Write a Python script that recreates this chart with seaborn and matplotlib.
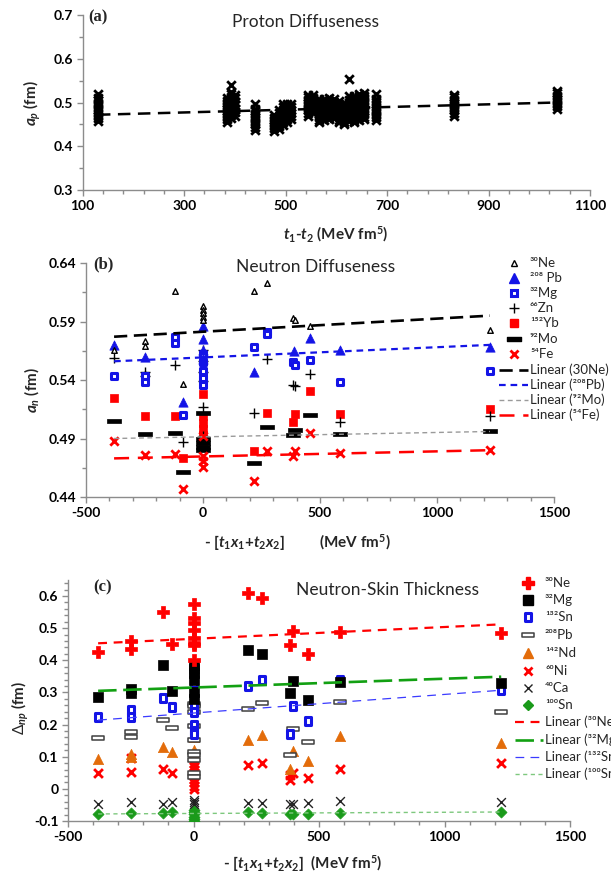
import numpy as np
import pandas as pd
import matplotlib
matplotlib.use("Agg")
import matplotlib.pyplot as plt
import seaborn as sns
from matplotlib.lines import Line2D
from matplotlib.path import Path
from matplotlib.ticker import FixedLocator

sns.set_theme(style="white")
plt.rcParams['font.family'] = ['Lato', 'DejaVu Sans']
plt.rcParams['mathtext.fontset'] = 'custom'
plt.rcParams['mathtext.rm'] = 'Lato'
plt.rcParams['mathtext.it'] = 'Lato:italic:bold'
plt.rcParams['mathtext.bf'] = 'Lato:bold'

# ---------------- Panel (a): proton diffuseness ----------------
ap_col_x = [130, 384, 392, 400, 440, 478, 486, 494, 502, 510, 545, 553, 565, 575,
            585, 595, 605, 615, 625, 635, 645, 655, 678, 832, 1035]
ap_col_y = [
    [0.458, 0.464, 0.470, 0.476, 0.482, 0.488, 0.494, 0.500, 0.506, 0.511, 0.520],
    [0.456, 0.462, 0.468, 0.474, 0.480, 0.486, 0.492, 0.498, 0.504, 0.510],
    [0.465, 0.471, 0.477, 0.483, 0.489, 0.495, 0.501, 0.507, 0.513, 0.519, 0.525, 0.540],
    [0.470, 0.478, 0.486, 0.494, 0.502, 0.510, 0.518],
    [0.438, 0.444, 0.450, 0.456, 0.462, 0.468, 0.474, 0.480, 0.486, 0.497],
    [0.435, 0.441, 0.447, 0.453, 0.459, 0.465, 0.471],
    [0.440, 0.446, 0.452, 0.458, 0.464, 0.470, 0.476, 0.482],
    [0.448, 0.455, 0.462, 0.469, 0.476, 0.483, 0.490, 0.497],
    [0.455, 0.462, 0.469, 0.476, 0.483, 0.490, 0.497],
    [0.462, 0.469, 0.476, 0.483, 0.490, 0.497],
    [0.470, 0.476, 0.482, 0.488, 0.494, 0.500, 0.506, 0.512, 0.518],
    [0.475, 0.481, 0.487, 0.493, 0.499, 0.505, 0.511, 0.517],
    [0.455, 0.461, 0.467, 0.473, 0.479, 0.485, 0.491, 0.497, 0.503, 0.509],
    [0.460, 0.466, 0.472, 0.478, 0.484, 0.490, 0.496, 0.502, 0.508],
    [0.462, 0.468, 0.474, 0.480, 0.486, 0.492, 0.498, 0.504, 0.510],
    [0.465, 0.471, 0.477, 0.483, 0.489, 0.495, 0.501, 0.507],
    [0.455, 0.461, 0.467, 0.473, 0.479, 0.485, 0.491, 0.497, 0.503],
    [0.450, 0.456, 0.462, 0.468, 0.474, 0.480, 0.486, 0.492, 0.498],
    [0.458, 0.464, 0.470, 0.476, 0.482, 0.488, 0.494, 0.500, 0.506, 0.515, 0.553],
    [0.455, 0.461, 0.467, 0.473, 0.479, 0.485, 0.491, 0.497, 0.503, 0.509, 0.515],
    [0.460, 0.466, 0.472, 0.478, 0.484, 0.490, 0.496, 0.502, 0.508, 0.514, 0.520],
    [0.462, 0.468, 0.474, 0.480, 0.486, 0.492, 0.498, 0.504, 0.510, 0.516, 0.522],
    [0.460, 0.466, 0.472, 0.478, 0.484, 0.490, 0.496, 0.502, 0.508, 0.520],
    [0.470, 0.476, 0.482, 0.488, 0.494, 0.500, 0.506, 0.512, 0.517],
    [0.485, 0.491, 0.497, 0.503, 0.509, 0.515, 0.521, 0.526],
]
ap_trend_x = [130, 1035]
ap_trend_y = [0.472, 0.500]
a_xticks = [100, 300, 500, 700, 900, 1100]
a_yticks = [0.3, 0.4, 0.5, 0.6, 0.7]

# ---------------- Panel (b): neutron diffuseness ----------------
b_ne_x = [-380, -248, -248, -120, -85, 0, 0, 0, 0, 0, 218, 274, 385, 395, 457, 1226]
b_ne_y = [0.566, 0.573, 0.569, 0.616, 0.537, 0.603, 0.600, 0.597, 0.594, 0.591,
          0.616, 0.623, 0.593, 0.591, 0.586, 0.583]
b_pb_x = [-380, -248, -85, 0, 0, 0, 0, 218, 390, 457, 585, 1226]
b_pb_y = [0.570, 0.560, 0.521, 0.586, 0.575, 0.566, 0.558, 0.547, 0.565, 0.576, 0.566, 0.568]
b_mg_x = [-380, -248, -248, -120, -120, -85, 0, 0, 0, 0, 0, 218, 274, 274, 385, 395, 457, 585, 1226]
b_mg_y = [0.543, 0.543, 0.538, 0.577, 0.572, 0.510, 0.562, 0.555, 0.548, 0.542, 0.536,
          0.568, 0.581, 0.579, 0.555, 0.553, 0.557, 0.538, 0.548]
b_zn_x = [-380, -248, -248, -120, -85, 0, 0, 0, 0, 0, 0, 218, 274, 385, 395, 457, 585, 1226]
b_zn_y = [0.559, 0.547, 0.543, 0.553, 0.487, 0.566, 0.556, 0.547, 0.539, 0.517, 0.492,
          0.512, 0.558, 0.536, 0.535, 0.545, 0.504, 0.509]
b_yb_x = [-380, -248, -120, -85, 0, 0, 0, 0, 0, 0, 0, 218, 274, 385, 395, 457, 585, 1226]
b_yb_y = [0.525, 0.509, 0.509, 0.473, 0.528, 0.509, 0.503, 0.498, 0.493, 0.488, 0.484,
          0.479, 0.512, 0.504, 0.511, 0.531, 0.511, 0.515]
b_mo_x = [-380, -248, -120, -85, 0, 0, 0, 0, 0, 218, 274, 385, 395, 457, 585, 1226]
b_mo_y = [0.505, 0.494, 0.495, 0.461, 0.512, 0.490, 0.486, 0.483, 0.480, 0.469, 0.500,
          0.493, 0.497, 0.510, 0.494, 0.496]
b_fe_x = [-380, -248, -120, -85, 0, 0, 0, 0, 218, 274, 385, 395, 457, 585, 1226]
b_fe_y = [0.488, 0.476, 0.477, 0.447, 0.492, 0.475, 0.471, 0.466, 0.454, 0.479, 0.475,
          0.479, 0.495, 0.478, 0.480]
b_trend_x = [-380, 1226]
b_ne_trend = [0.577, 0.595]
b_pb_trend = [0.556, 0.570]
b_mo_trend = [0.490, 0.496]
b_fe_trend = [0.473, 0.480]
b_xticks = [-500, 0, 500, 1000, 1500]
b_yticks = [0.44, 0.49, 0.54, 0.59, 0.64]

# ---------------- Panel (c): neutron-skin thickness ----------------
c_ne_x = [-380, -248, -248, -120, -85, 0, 0, 0, 0, 0, 0, 0, 0, 218, 274, 385, 395, 457, 585, 1226]
c_ne_y = [0.425, 0.461, 0.435, 0.549, 0.450, 0.575, 0.532, 0.515, 0.494, 0.468, 0.455,
          0.447, 0.400, 0.610, 0.593, 0.447, 0.491, 0.421, 0.489, 0.486]
c_mg_x = [-380, -248, -248, -120, -85, 0, 0, 0, 0, 0, 0, 218, 274, 385, 395, 457, 585, 1226]
c_mg_y = [0.286, 0.312, 0.297, 0.385, 0.305, 0.385, 0.372, 0.360, 0.340, 0.300, 0.280,
          0.432, 0.420, 0.297, 0.335, 0.276, 0.333, 0.330]
c_sn132_x = [-380, -248, -248, -120, -85, 0, 0, 0, 0, 0, 0, 0, 0, 218, 274, 385, 395, 457, 585, 1226]
c_sn132_y = [0.224, 0.245, 0.224, 0.283, 0.255, 0.340, 0.330, 0.305, 0.262, 0.240, 0.200,
             0.180, 0.170, 0.321, 0.340, 0.170, 0.258, 0.211, 0.338, 0.307]
c_pb_x = [-380, -248, -248, -120, -85, 0, 0, 0, 0, 0, 0, 0, 0, 0, 0, 218, 274, 385, 395, 457, 585, 1226]
c_pb_y = [0.159, 0.177, 0.162, 0.214, 0.188, 0.264, 0.257, 0.240, 0.195, 0.151, 0.115,
          0.105, 0.089, 0.048, 0.038, 0.247, 0.268, 0.105, 0.185, 0.146, 0.269, 0.240]
c_nd_x = [-380, -248, -248, -120, -85, 0, 0, 0, 0, 218, 274, 385, 395, 457, 585, 1226]
c_nd_y = [0.094, 0.110, 0.100, 0.129, 0.115, 0.172, 0.160, 0.120, 0.105, 0.151, 0.167,
          0.063, 0.117, 0.086, 0.165, 0.143]
c_ni_x = [-380, -248, -248, -120, -85, 0, 0, 0, 0, 0, 0, 0, 0, 0, 0, 0,
          218, 274, 385, 385, 395, 457, 585, 1226]
c_ni_y = [0.048, 0.095, 0.053, 0.061, 0.050, 0.100, 0.090, 0.080, 0.070, 0.060, 0.050,
          0.040, 0.030, 0.020, 0.010, 0.000, 0.074, 0.079, 0.042, 0.027, 0.050, 0.035,
          0.061, 0.080]
c_ca_x = [-380, -248, -120, -85, 0, 0, 0, 218, 274, 385, 395, 457, 585, 1226]
c_ca_y = [-0.046, -0.041, -0.046, -0.041, -0.036, -0.041, -0.046, -0.043, -0.043,
          -0.046, -0.046, -0.043, -0.038, -0.041]
c_sn100_x = [-380, -248, -120, -85, 0, 0, 0, 0, 0, 0, 218, 274, 385, 395, 457, 585, 1226]
c_sn100_y = [-0.079, -0.074, -0.075, -0.073, -0.065, -0.072, -0.079, -0.086, -0.093,
             -0.100, -0.071, -0.074, -0.077, -0.079, -0.079, -0.074, -0.073]
c_trend_x = [-380, 1226]
c_ne_trend = [0.453, 0.512]
c_mg_trend = [0.305, 0.349]
c_sn132_trend = [0.214, 0.307]
c_sn100_trend = [-0.078, -0.072]
c_xticks = [-500, 0, 500, 1000, 1500]
c_yticks = [-0.1, 0, 0.1, 0.2, 0.3, 0.4, 0.5, 0.6]
c_ytick_labels = ["-0.1", "0", "0.1", "0.2", "0.3", "0.4", "0.5", "0.6"]

# legend labels
b_labels = ["³⁰Ne", "²⁰⁸ Pb", "³²Mg", "⁶⁶Zn", "¹⁵²Yb", "⁹²Mo", "⁵⁴Fe",
            "Linear (30Ne)", "Linear (²⁰⁸Pb)", "Linear (⁹²Mo)", "Linear (⁵⁴Fe)"]
c_labels = ["³⁰Ne", "³²Mg", "¹³²Sn", "²⁰⁸Pb", "¹⁴²Nd", "⁶⁰Ni", "⁴⁰Ca", "¹⁰⁰Sn",
            "Linear (³⁰Ne)", "Linear (³²Mg)", "Linear (¹³²Sn)", "Linear (¹⁰⁰Sn)"]

# ---------------- figure ----------------
W, H = 611, 881
fig = plt.figure(figsize=(W / 100, H / 100), dpi=100)


def fx(px):
    return px / W


def fy(py):
    return 1 - py / H


def add_axes(l, r, t, b):
    return fig.add_axes([fx(l), fy(b), fx(r) - fx(l), fy(t) - fy(b)])


BAR = Path([(-1, -0.34), (1, -0.34), (1, 0.34), (-1, 0.34), (-1, -0.34)],
           [Path.MOVETO, Path.LINETO, Path.LINETO, Path.LINETO, Path.CLOSEPOLY])
OBAR = Path([(-1, -0.28), (1, -0.28), (1, 0.28), (-1, 0.28), (-1, -0.28)],
            [Path.MOVETO, Path.LINETO, Path.LINETO, Path.LINETO, Path.CLOSEPOLY])
TALLSQ = Path([(-0.85, -1), (0.85, -1), (0.85, 1), (-0.85, 1), (-0.85, -1)],
              [Path.MOVETO, Path.LINETO, Path.LINETO, Path.LINETO, Path.CLOSEPOLY])

SPINE = '#8c8c8c'
BLUE = '#1414e6'
RED = '#ff0000'
ORANGE = '#e36c0a'
GREEN = '#1a9a1a'
TICKFS = 10


def style_axes(ax, xlim, ylim, xt, xlabels, xminor, yt, ylabels, yminor):
    ax.set_xlim(*xlim)
    ax.set_ylim(*ylim)
    for s in ['top', 'right']:
        ax.spines[s].set_visible(False)
    for s in ['left', 'bottom']:
        ax.spines[s].set_color(SPINE)
        ax.spines[s].set_linewidth(1.0)
    ax.set_xticks(xt, xlabels, fontweight='bold', fontsize=TICKFS)
    ax.set_yticks(yt, ylabels, fontweight='bold', fontsize=TICKFS)
    ax.xaxis.set_minor_locator(FixedLocator(xminor))
    ax.yaxis.set_minor_locator(FixedLocator(yminor))
    ax.tick_params(which='both', direction='out', color=SPINE, width=1.0,
                   bottom=True, left=True, labelcolor='black', pad=3)
    ax.tick_params(which='major', length=4)
    ax.tick_params(which='minor', length=3)
    ax.set_xlabel('')
    ax.set_ylabel('')
    ax.patch.set_alpha(0)


def scat(ax, x, y, marker, s, color, ec=None, lw=None, z=3):
    kw = dict(marker=marker, s=s, ax=ax, legend=False, zorder=z)
    if ec is not None:
        kw['edgecolor'] = ec
    if lw is not None:
        kw['linewidth'] = lw
    sns.scatterplot(x=x, y=y, color=color, **kw)


def trend(ax, x, y, color, lw, dash, z=4):
    sns.lineplot(x=x, y=y, color=color, linewidth=lw, linestyle=(0, dash), ax=ax,
                 legend=False, zorder=z)


# ---------- (a) ----------
axa = add_axes(82.7, 590, 15, 190)
ap_x = [x for x, ys in zip(ap_col_x, ap_col_y) for _ in ys]
ap_y = [y for ys in ap_col_y for y in ys]
scat(axa, ap_x, ap_y, 'x', 38, 'black', lw=2.0)
trend(axa, ap_trend_x, ap_trend_y, 'black', 1.8, (5, 3))
style_axes(axa, (100, 1100), (0.3, 0.7),
           a_xticks, [str(v) for v in a_xticks], np.arange(100, 1101, 40),
           a_yticks, [f"{v:.1f}" for v in a_yticks], np.arange(0.3, 0.701, 0.05))

# ---------- (b) ----------
axb = add_axes(86, 554, 263, 497)
scat(axb, b_yb_x, b_yb_y, 's', 40, RED, ec=RED, lw=0.5)
scat(axb, b_mo_x, b_mo_y, BAR, 110, 'black', ec='black', lw=0.5)
scat(axb, b_zn_x, b_zn_y, '+', 55, 'black', lw=1.0)
scat(axb, b_mg_x, b_mg_y, 's', 22, 'white', ec=BLUE, lw=2.2)
scat(axb, b_pb_x, b_pb_y, '^', 45, BLUE, ec=BLUE, lw=0.5)
scat(axb, b_fe_x, b_fe_y, 'x', 36, RED, lw=2.0)
scat(axb, b_ne_x, b_ne_y, '^', 16, 'white', ec='black', lw=1.0)
trend(axb, b_trend_x, b_ne_trend, 'black', 1.9, (5, 2.5))
trend(axb, b_trend_x, b_pb_trend, BLUE, 1.6, (3, 2.2))
trend(axb, b_trend_x, b_mo_trend, '#9a9a9a', 1.0, (3.5, 2.5))
trend(axb, b_trend_x, b_fe_trend, RED, 1.8, (6, 3.5))
style_axes(axb, (-500, 1500), (0.44, 0.64),
           b_xticks, [str(v) for v in b_xticks], np.arange(-500, 1501, 100),
           b_yticks, [f"{v:.2f}" for v in b_yticks], np.arange(0.44, 0.6401, 0.025))

# ---------- (c) ----------
axc = add_axes(68, 570, 580, 821)
scat(axc, c_sn100_x, c_sn100_y, 'D', 32, GREEN, ec=GREEN, lw=0.5)
scat(axc, c_ca_x, c_ca_y, 'x', 40, '#222222', lw=1.0)
scat(axc, c_ni_x, c_ni_y, 'x', 40, RED, lw=2.0)
scat(axc, c_nd_x, c_nd_y, '^', 55, ORANGE, ec=ORANGE, lw=0.5)
scat(axc, c_pb_x, c_pb_y, OBAR, 85, 'white', ec='#404040', lw=1.1)
scat(axc, c_sn132_x, c_sn132_y, TALLSQ, 30, 'white', ec=BLUE, lw=2.2)
scat(axc, c_mg_x, c_mg_y, 's', 50, 'black', ec='black', lw=0.5)
scat(axc, c_ne_x, c_ne_y, 'P', 85, RED, ec=RED, lw=0.5)
trend(axc, c_trend_x, c_ne_trend, RED, 1.6, (4, 3))
trend(axc, c_trend_x, c_mg_trend, '#12a012', 1.9, (7, 2.5))
trend(axc, c_trend_x, c_sn132_trend, '#3b3bff', 0.9, (7, 5))
trend(axc, c_trend_x, c_sn100_trend, '#7ec87e', 1.0, (3, 2.5))
style_axes(axc, (-500, 1500), (-0.1, 0.65),
           c_xticks, [str(v) for v in c_xticks], np.arange(-500, 1501, 100),
           c_yticks, c_ytick_labels, np.arange(-0.1, 0.651, 0.02))

# ---------- texts ----------
def ftext(px, py, s, **kw):
    return fig.text(fx(px), fy(py), s, **kw)

SERIF = ['Liberation Serif', 'DejaVu Serif']
ftext(88, 17, "(a)", family=SERIF, fontweight='bold', fontsize=12, va='center')
ftext(93, 264, "(b)", family=SERIF, fontweight='bold', fontsize=12, va='center')
ftext(93, 587, "(c)", family=SERIF, fontweight='bold', fontsize=12, va='center')

ftext(305, 22, "Proton Diffuseness", fontsize=12.5, ha='center', va='center')
ftext(316, 267, "Neutron Diffuseness", fontsize=12.5, ha='center', va='center')
ftext(388, 590, "Neutron-Skin Thickness", fontsize=12.5, ha='center', va='center')

ftext(32, 103, r"$\mathit{a}_{\mathit{p}}$ (fm)", fontsize=11, fontweight='bold',
      rotation=90, ha='center', va='center')
ftext(32, 390, r"$\mathit{a}_{\mathit{n}}$ (fm)", fontsize=11, fontweight='bold',
      rotation=90, ha='center', va='center')
ftext(20, 708, r"$\mathit{\Delta}_{\mathit{np}}$ (fm)", fontsize=11, fontweight='bold',
      rotation=90, ha='center', va='center')

ftext(336, 234, r"$\mathit{t}_{\mathbf{1}}$-$\mathit{t}_{\mathbf{2}}$ (MeV fm$^{\mathbf{5}}$)",
      fontsize=11, fontweight='bold', ha='center', va='center')
ftext(204, 542, r"- [$\mathit{t}_{\mathbf{1}}\mathit{x}_{\mathbf{1}}$+$\mathit{t}_{\mathbf{2}}\mathit{x}_{\mathbf{2}}$]",
      fontsize=11, fontweight='bold', ha='left', va='center')
ftext(319, 542, r"(MeV fm$^{\mathbf{5}}$)", fontsize=11, fontweight='bold', ha='left', va='center')
ftext(303, 864, r"- [$\mathit{t}_{\mathbf{1}}\mathit{x}_{\mathbf{1}}$+$\mathit{t}_{\mathbf{2}}\mathit{x}_{\mathbf{2}}$]  (MeV fm$^{\mathbf{5}}$)",
      fontsize=11, fontweight='bold', ha='center', va='center')

# ---------- manual legends ----------
def leg_marker(px, py, **kw):
    fig.add_artist(Line2D([fx(px)], [fy(py)], transform=fig.transFigure, linestyle='none', **kw))


def leg_line(px0, px1, py, color, lw, dash):
    fig.add_artist(Line2D([fx(px0), fx(px1)], [fy(py), fy(py)], transform=fig.transFigure,
                          color=color, linewidth=lw, linestyle=(0, dash)))


b_rows = [263, 278, 293, 308, 323, 339, 354, 370, 385, 400, 415]
bm = 513.5
leg_marker(bm, b_rows[0], marker='^', markersize=4, mfc='white', mec='black', mew=1.0)
leg_marker(bm, b_rows[1], marker='^', markersize=6.7, mfc=BLUE, mec=BLUE)
leg_marker(bm, b_rows[2], marker='s', markersize=4.7, mfc='white', mec=BLUE, mew=2.2)
leg_marker(bm, b_rows[3], marker='+', markersize=7.4, mec='black', mew=1.0)
leg_marker(bm, b_rows[4], marker='s', markersize=6.3, mfc=RED, mec=RED)
leg_marker(bm, b_rows[5], marker=BAR, markersize=10.5, mfc='black', mec='black')
leg_marker(bm, b_rows[6], marker='x', markersize=6, mec=RED, mew=2.0)
leg_line(499, 528, b_rows[7], 'black', 1.9, (5, 2.5))
leg_line(499, 528, b_rows[8], BLUE, 1.6, (3, 2.2))
leg_line(499, 528, b_rows[9], '#9a9a9a', 1.0, (3.5, 2.5))
leg_line(499, 528, b_rows[10], RED, 1.8, (6, 3.5))
for r, lab in zip(b_rows, b_labels):
    ftext(530, r, lab, fontsize=9.5, ha='left', va='center')

c_rows = [583, 600, 617, 635, 653, 671, 688, 705, 722, 740, 757, 774]
cm = 528
leg_marker(cm, c_rows[0], marker='P', markersize=9.2, mfc=RED, mec=RED)
leg_marker(cm, c_rows[1], marker='s', markersize=7, mfc='black', mec='black')
leg_marker(cm, c_rows[2], marker=TALLSQ, markersize=5.5, mfc='white', mec=BLUE, mew=2.2)
leg_marker(cm, c_rows[3], marker=OBAR, markersize=9.2, mfc='white', mec='#404040', mew=1.1)
leg_marker(cm, c_rows[4], marker='^', markersize=7.4, mfc=ORANGE, mec=ORANGE)
leg_marker(cm, c_rows[5], marker='x', markersize=6.3, mec=RED, mew=2.0)
leg_marker(cm, c_rows[6], marker='x', markersize=6.3, mec='#222222', mew=1.0)
leg_marker(cm, c_rows[7], marker='D', markersize=5.6, mfc=GREEN, mec=GREEN)
leg_line(515, 543, c_rows[8], RED, 1.6, (4, 3))
leg_line(515, 543, c_rows[9], '#12a012', 1.9, (7, 2.5))
leg_line(515, 543, c_rows[10], '#3b3bff', 0.9, (7, 5))
leg_line(515, 543, c_rows[11], '#7ec87e', 1.0, (3, 2.5))
for r, lab in zip(c_rows, c_labels):
    ftext(545, r, lab, fontsize=9.5, ha='left', va='center')

fig.savefig("out.png", dpi=100)
